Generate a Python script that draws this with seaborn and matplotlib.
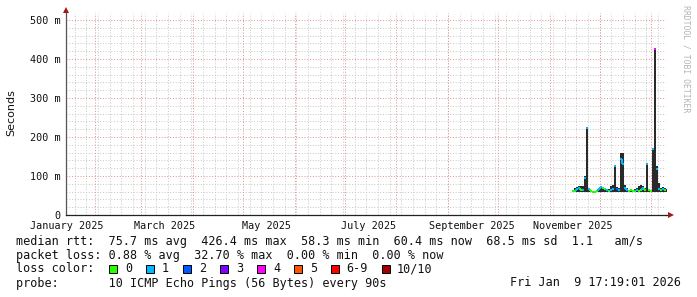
import numpy as np
import pandas as pd
import matplotlib
matplotlib.use("Agg")
import matplotlib.pyplot as plt
import matplotlib.dates as mdates
from matplotlib.patches import Rectangle
import seaborn as sns

# ---------------- data ----------------
view_start = "2025-01-14 17:19:01"
view_end = "2026-01-09 17:19:01"
sample_start = "2025-11-14 07:00"
sample_step_hours = 28.8

median_ms = [61, 61, 66, 70, 64, 65, 95, 222, 66, 62, 60, 60, 61, 66, 72, 70,
             66, 63, 61, 64, 66, 125, 67, 63, 144, 132, 70, 64, 62, 63, 61, 62,
             63, 61, 64, 70, 64, 131, 63, 62, 169, 426, 118, 66, 63, 67, 64, 62]
smoke_hi_ms = [63, 69, 72, 74, 74, 75, 100, 224, 70, 64, 62, 62, 64, 70, 74, 73,
               70, 66, 66, 75, 78, 128, 72, 70, 159, 159, 76, 68, 64, 66, 64, 66,
               70, 74, 77, 75, 70, 133, 66, 65, 172, 428, 125, 82, 68, 72, 68, 66]
smoke_lo_ms = [58, 58, 59, 60, 59, 58, 60, 60, 59, 58, 58, 58, 59, 59, 60, 60,
               59, 58, 58, 58, 59, 60, 59, 58, 60, 60, 59, 58, 58, 58, 58, 58,
               58, 58, 59, 59, 58, 60, 58, 58, 60, 60, 60, 60, 58, 59, 58, 58]
loss_count = [0, 0, 1, 1, 0, 1, 1, 1, 1, 0, 0, 0, 0, 1, 1, 0,
              0, 1, 0, 1, 1, 1, 2, 1, 1, 1, 1, 1, 0, 0, 0, 0,
              1, 0, 0, 1, 0, 1, 0, 0, 1, 4, 1, 1, 0, 1, 0, 0]

loss_levels = ["0", "1", "2", "3", "4", "5", "6-9", "10/10"]
loss_colors = ["#26ff00", "#00b8ff", "#0059ff", "#7e00ff", "#ff00ff",
               "#ff5500", "#ff0000", "#a10000"]

y_ticks_ms = [0, 100, 200, 300, 400, 500]
y_tick_labels = ["0", "100 m", "200 m", "300 m", "400 m", "500 m"]
x_label_dates = ["2025-01-15", "2025-03-15", "2025-05-15",
                 "2025-07-15", "2025-09-15", "2025-11-15"]
x_tick_labels = ["January 2025", "March 2025", "May 2025",
                 "July 2025", "September 2025", "November 2025"]

legend_rtt = "median rtt:  75.7 ms avg  426.4 ms max  58.3 ms min  60.4 ms now  68.5 ms sd  1.1   am/s"
legend_loss = "packet loss: 0.88 % avg  32.70 % max  0.00 % min  0.00 % now"
legend_color_title = "loss color:"
legend_probe = "probe:       10 ICMP Echo Pings (56 Bytes) every 90s"
legend_date = "Fri Jan  9 17:19:01 2026"
watermark = "RRDTOOL / TOBI OETIKER"
y_axis_title = "Seconds"

# ---------------- style ----------------
sns.set_style("white")
plt.rcParams["font.family"] = ["DejaVu Sans Mono", "DejaVu Sans"]

W, H = 697, 297
fig = plt.figure(figsize=(W / 100, H / 100), dpi=100)
fig.patch.set_facecolor("white")
ax = fig.add_axes([66 / W, 1 - 215 / H, 600 / W, 202 / H])
ax.set_facecolor("white")

x0 = mdates.date2num(pd.Timestamp(view_start).to_pydatetime())
x1 = mdates.date2num(pd.Timestamp(view_end).to_pydatetime())
ymax = 0.518
ax.set_xlim(x0, x1)
ax.set_ylim(0, ymax)

# ---------------- grid ----------------
minor_c = "#c9c9c9"
major_c = "#e69090"
dots = (0, (1.0, 1.8))
for v in np.arange(0.02, ymax, 0.02):
    if abs(v / 0.1 - round(v / 0.1)) > 1e-6:
        ax.axhline(v, color=minor_c, lw=0.72, ls=dots, zorder=0)
weeks = pd.date_range("2025-01-20", view_end, freq="7D")
for d in weeks:
    ax.axvline(mdates.date2num(d.to_pydatetime()), color=minor_c, lw=0.72, ls=dots, zorder=0)
months = pd.date_range("2025-02-01", view_end, freq="MS")
for d in months:
    ax.axvline(mdates.date2num(d.to_pydatetime()), color=major_c, lw=0.72, ls=dots, zorder=0.5)
for v in y_ticks_ms[1:]:
    ax.axhline(v / 1000, color=major_c, lw=0.72, ls=dots, zorder=0.5)

# ---------------- data ----------------
t = pd.date_range(sample_start, periods=len(median_ms),
                  freq=pd.Timedelta(hours=sample_step_hours))
tn = mdates.date2num(t.to_pydatetime())
step = sample_step_hours / 24.0
med = np.array(median_ms) / 1000.0
hi = np.array(smoke_hi_ms) / 1000.0
lo = np.array(smoke_lo_ms) / 1000.0


def loss_label(n):
    if n <= 5:
        return loss_levels[n]
    if n < 10:
        return "6-9"
    return "10/10"


tx = np.append(tn, tn[-1] + step)
ax.fill_between(tx, np.append(lo, lo[-1]), np.append(hi, hi[-1]), step="post",
                color="#2a2a2a", lw=0, zorder=2)

rows = []
for i in range(len(med)):
    lab = loss_label(loss_count[i])
    rows.append((tn[i], med[i], i, lab))
    rows.append((tn[i] + step, med[i], i, lab))
    if i > 0 and abs(med[i] - med[i - 1]) < 0.02:
        rows.append((tn[i], med[i - 1], 1000 + i, lab))
        rows.append((tn[i], med[i], 1000 + i, lab))
df = pd.DataFrame(rows, columns=["t", "v", "seg", "loss"])
palette = dict(zip(loss_levels, loss_colors))
sns.lineplot(data=df, x="t", y="v", hue="loss", units="seg", estimator=None,
             palette=palette, legend=False, sort=False, lw=1.5, ax=ax,
             solid_capstyle="butt", zorder=3)

# ---------------- axes / ticks ----------------
ax.set_xlabel("")
ax.set_ylabel("")
for s in ["top", "right"]:
    ax.spines[s].set_visible(False)
ax.spines["left"].set_color("#555555")
ax.spines["bottom"].set_color("#222222")
ax.spines["left"].set_linewidth(0.9)
ax.spines["bottom"].set_linewidth(0.9)
ax.spines["left"].set_zorder(4)
ax.spines["bottom"].set_zorder(4)

ax.set_yticks([v / 1000 for v in y_ticks_ms])
ax.set_yticklabels(y_tick_labels)
ax.tick_params(axis="y", which="major", length=2.2, width=0.72, color="#888888",
               pad=1.6, labelsize=7.3, labelcolor="#111111")

ax.set_xticks([mdates.date2num(d.to_pydatetime()) for d in months])
ax.set_xticklabels([""] * len(months))
ax.tick_params(axis="x", which="major", length=2.2, width=0.72, color=major_c)
ax.set_xticks([mdates.date2num(pd.Timestamp(d).to_pydatetime()) for d in x_label_dates],
              minor=True)
ax.set_xticklabels(x_tick_labels, minor=True)
ax.tick_params(axis="x", which="minor", length=0, pad=4.2, labelsize=7.3,
               labelcolor="#111111")

# arrows
arrow_c = "#a01818"
ax.plot([0, 0], [1, 1 + 3 / 202], color="#555555", lw=0.9, transform=ax.transAxes,
        clip_on=False, zorder=4)
ax.plot([1, 1 + 3 / 600], [0, 0], color="#222222", lw=0.9, transform=ax.transAxes,
        clip_on=False, zorder=4)
ax.plot([0], [1 + 3.5 / 202], marker="^", ms=4, color=arrow_c, mew=0,
        transform=ax.transAxes, clip_on=False, zorder=5)
ax.plot([1 + 5 / 600], [0], marker=">", ms=4, color=arrow_c, mew=0,
        transform=ax.transAxes, clip_on=False, zorder=5)

# ---------------- texts ----------------
def fx(px):
    return px / W


def fy(py):
    return 1 - py / H


fig.text(fx(11), fy(113), y_axis_title, rotation=90, ha="center", va="center",
         fontsize=8, family="DejaVu Sans", color="#111111")
fig.text(fx(686), fy(5), watermark, rotation=270, ha="center", va="top",
         fontsize=5.9, color="#b4b4b4")

mono = dict(fontsize=8.5, family="DejaVu Sans Mono", color="#111111", va="center")
fig.text(fx(16), fy(241), legend_rtt, ha="left", **mono)
fig.text(fx(16), fy(255), legend_loss, ha="left", **mono)
fig.text(fx(16), fy(269), legend_color_title, ha="left", **mono)
fig.text(fx(16), fy(283), legend_probe, ha="left", **mono)
fig.text(fx(681), fy(283), legend_date, ha="right", **mono)

box_x = [109, 146, 183, 220, 257, 294, 331, 382]
lab_x = [125, 162, 199, 236, 273, 310, 346, 397]
for bx, lx, lab, col in zip(box_x, lab_x, loss_levels, loss_colors):
    fig.add_artist(Rectangle((fx(bx), fy(273)), 8 / W, 8 / H, transform=fig.transFigure,
                             facecolor=col, edgecolor="black", lw=0.7))
    fig.text(fx(lx), fy(269), lab, ha="left", **mono)

fig.savefig("out.png", dpi=100, facecolor="white")
